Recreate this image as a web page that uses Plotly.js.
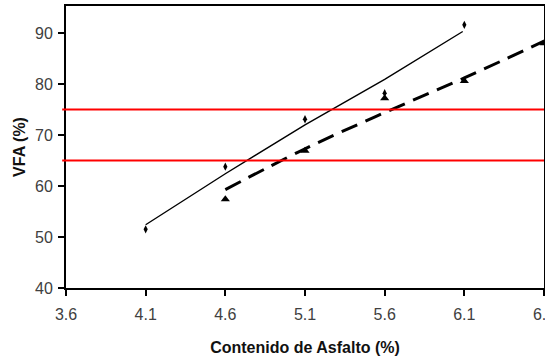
<!DOCTYPE html>
<html>
<head>
<meta charset="utf-8">
<script src="https://cdn.plot.ly/plotly-3.0.1.min.js"></script>
<style>html,body{margin:0;padding:0;background:#fff;}#chart{width:545px;height:358px;}</style>
</head>
<body>
<div id="chart"></div>
<script>
// Asphalt content (%) and measured VFA (%)
const xDiamond = [4.1, 4.6, 5.1, 5.6, 6.1];
const vfaDiamond = [51.5, 63.8, 73.1, 78.2, 91.6];
const xTriangle = [4.6, 5.1, 5.6, 6.1, 6.6];
const vfaTriangle = [57.4, 66.9, 77.2, 80.6, 88.0];
// Trend lines
const xSolidFit = [4.1, 4.6, 5.1, 5.6, 6.09];
const vfaSolidFit = [52.4, 62.4, 72.0, 80.9, 90.3];
const xDashFit = [4.6, 5.1, 5.6, 6.1, 6.6];
const vfaDashFit = [59.3, 67.3, 74.4, 81.2, 88.4];
// Specification limits (%)
const vfaLimits = [65, 75];
const xTicks = [3.6, 4.1, 4.6, 5.1, 5.6, 6.1, 6.6];
const yTicks = [40, 50, 60, 70, 80, 90];

const traces = [
  {x: xSolidFit, y: vfaSolidFit, mode: 'lines', line: {color: '#000', width: 1.4}, hoverinfo: 'skip'},
  {x: xDashFit, y: vfaDashFit, mode: 'lines', line: {color: '#000', width: 3, dash: '17px,9px', shape: 'spline', smoothing: 1}, hoverinfo: 'skip'},
  {x: xTriangle, y: vfaTriangle, mode: 'markers', marker: {symbol: 'triangle-up', size: 8, color: '#000'}},
  {x: xDiamond, y: vfaDiamond, mode: 'markers', marker: {symbol: 'diamond-tall', size: 6, color: '#000'}}
];

const shapes = vfaLimits.map(v => ({
  type: 'line', xref: 'paper', yref: 'y', x0: -0.008, x1: 1, y0: v, y1: v,
  line: {color: '#ff0000', width: 2}
}));

const layout = {
  width: 545, height: 358,
  margin: {l: 66, r: 1, t: 6, b: 70, pad: 0},
  paper_bgcolor: '#fff', plot_bgcolor: '#fff',
  showlegend: false,
  font: {family: 'Liberation Sans, Arial, sans-serif', color: '#333'},
  xaxis: {
    range: [3.6, 6.6], tickvals: xTicks, ticktext: xTicks.map(v => v.toFixed(1)),
    showgrid: false, zeroline: false, showline: true, linecolor: '#000', linewidth: 2, mirror: true,
    ticks: 'outside', ticklen: 6, tickwidth: 2, tickcolor: '#000',
    ticklabeloverflow: 'allow', ticklabelstandoff: 5,
    tickfont: {size: 16, color: '#404040'},
    title: {text: '<b>Contenido de Asfalto (%)</b>', font: {size: 16, color: '#111'}, standoff: 20}
  },
  yaxis: {
    range: [40, 95.3], tickvals: yTicks,
    showgrid: false, zeroline: false, showline: true, linecolor: '#000', linewidth: 2, mirror: true,
    ticks: 'outside', ticklen: 6, tickwidth: 2, tickcolor: '#000',
    ticklabelstandoff: 2,
    tickfont: {size: 16, color: '#404040'},
    title: {text: '<b>VFA (%)</b>', font: {size: 16, color: '#111'}, standoff: 5}
  },
  shapes: shapes
};

Plotly.newPlot('chart', traces, layout, {staticPlot: true, displayModeBar: false});
</script>
</body>
</html>
